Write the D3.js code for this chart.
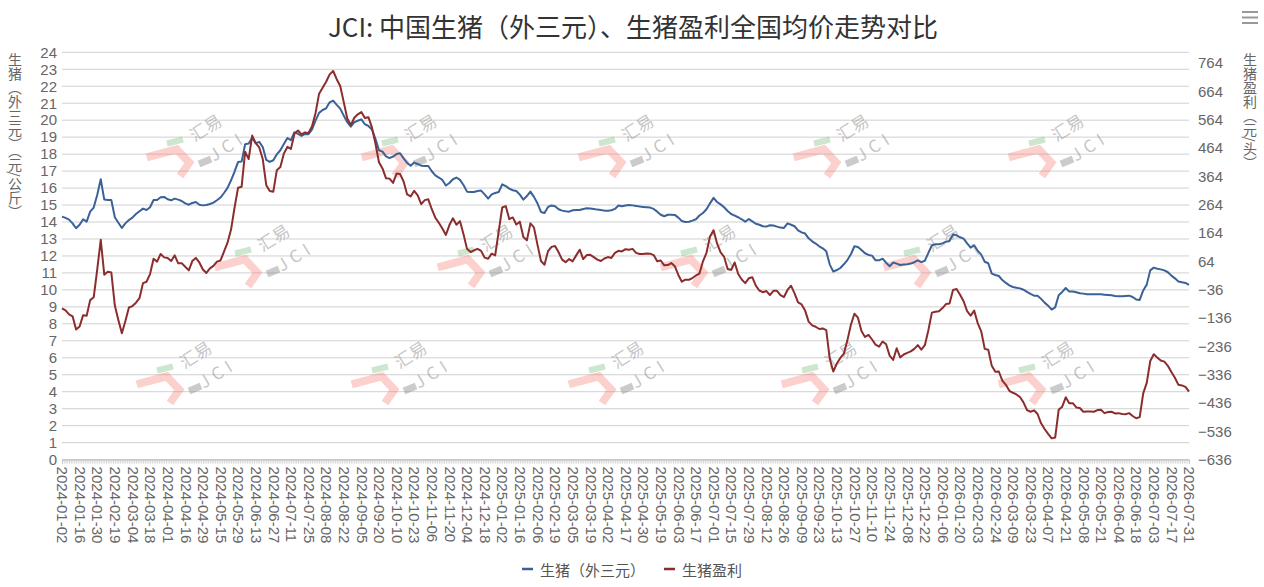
<!DOCTYPE html>
<meta charset="utf-8">
<title>JCI 生猪价格与盈利</title>
<style>
  body { margin: 0; background: #fff; }
  svg { display: block; font-family: "Noto Sans CJK SC", "Noto Sans", sans-serif; }
</style>
<div id="chart"></div>
<script src="https://cdn.jsdelivr.net/npm/d3@7/dist/d3.min.js"></script>
<script>

// one tick label every 10 trading days
const tickLabels = [
  "2024-01-02","2024-01-16","2024-01-30","2024-02-19","2024-03-04","2024-03-18","2024-04-01","2024-04-16",
  "2024-04-29","2024-05-15","2024-05-29","2024-06-13","2024-06-27","2024-07-11","2024-07-25","2024-08-08",
  "2024-08-22","2024-09-05","2024-09-20","2024-10-10","2024-10-23","2024-11-06","2024-11-20","2024-12-04",
  "2024-12-18","2025-01-02","2025-01-16","2025-02-06","2025-02-19","2025-03-05","2025-03-19","2025-04-02",
  "2025-04-17","2025-04-30","2025-05-19","2025-06-03","2025-06-17","2025-07-01","2025-07-15","2025-07-29",
  "2025-08-12","2025-08-26","2025-09-09","2025-09-23","2025-10-13","2025-10-27","2025-11-10","2025-11-24",
  "2025-12-08","2025-12-22","2026-01-06","2026-01-20","2026-02-03","2026-02-24","2026-03-09","2026-03-23",
  "2026-04-07","2026-04-21","2026-05-08","2026-05-21","2026-06-04","2026-06-18","2026-07-03","2026-07-17",
  "2026-07-31"
];
const labelEvery = 10;
const step = 2; // values below are read every 2nd trading day

// 生猪（外三元）, 元/公斤
const pigPrice = [
  14.32,14.24,14.14,13.92,13.63,13.84,14.16,14.02,14.61,14.85,15.59,16.52,15.32,15.30,15.30,14.28,
  13.96,13.65,13.92,14.12,14.26,14.47,14.63,14.79,14.71,14.87,15.30,15.30,15.46,15.48,15.34,15.28,
  15.38,15.32,15.24,15.10,15.02,15.12,15.18,15.02,14.98,15.00,15.06,15.14,15.28,15.44,15.71,16.01,
  16.46,16.97,17.54,17.56,18.58,18.62,18.97,18.64,18.72,18.42,17.66,17.54,17.64,17.99,18.23,18.60,
  18.95,18.82,19.29,19.19,19.07,19.19,19.17,19.46,19.99,20.43,20.60,20.70,21.05,21.15,20.90,
  20.68,20.27,19.88,19.62,19.88,19.97,20.05,19.76,19.66,19.45,18.90,18.23,18.15,17.87,17.77,17.85,
  18.01,18.05,17.75,17.48,17.32,17.50,17.42,17.32,17.30,17.30,16.99,16.75,16.62,16.48,16.15,16.30,
  16.52,16.62,16.48,16.18,15.79,15.77,15.77,15.83,15.85,15.63,15.38,15.63,15.71,15.77,16.22,16.12,
  15.97,15.87,15.83,15.61,15.32,15.53,15.79,15.48,15.10,14.59,14.53,14.89,14.97,14.93,14.75,14.67,
  14.63,14.61,14.69,14.71,14.71,14.77,14.81,14.79,14.77,14.73,14.71,14.67,14.67,14.69,14.77,14.97,
  14.93,14.97,15.00,14.98,14.95,14.91,14.89,14.87,14.85,14.77,14.61,14.43,14.34,14.43,14.43,14.42,
  14.26,14.06,14.00,14.02,14.08,14.16,14.38,14.53,14.75,15.10,15.42,15.18,15.04,14.87,14.65,14.47,
  14.38,14.28,14.16,14.02,14.18,14.04,13.90,13.84,13.75,13.73,13.81,13.79,13.73,13.67,13.65,13.92,
  13.84,13.75,13.51,13.39,13.32,13.04,12.86,12.73,12.57,12.45,12.27,11.49,11.08,11.17,11.29,11.51,
  11.76,12.10,12.57,12.53,12.35,12.16,12.06,12.02,11.74,11.74,11.84,11.60,11.39,11.61,11.55,
  11.47,11.49,11.51,11.55,11.63,11.74,11.64,11.72,12.18,12.63,12.69,12.69,12.74,12.84,12.88,13.26,
  13.22,13.10,13.02,12.74,12.49,12.63,12.31,12.08,11.66,11.57,10.96,10.88,10.82,10.58,10.41,10.27,
  10.17,10.13,10.09,10.01,9.88,9.76,9.66,9.66,9.47,9.25,9.07,8.84,8.97,9.69,9.88,10.11,
  9.90,9.90,9.86,9.80,9.78,9.74,9.74,9.74,9.74,9.74,9.72,9.70,9.68,9.64,9.62,9.62,
  9.64,9.66,9.58,9.44,9.41,9.97,10.31,11.15,11.31,11.25,11.21,11.15,11.04,10.84,10.68,10.50,
  10.45,10.41,10.29
];

// 生猪盈利, 元/头
const pigProfit = [
  -102,-109,-123,-130,-177,-166,-126,-128,-73,-63,35,140,17,27,25,-92,
  -143,-190,-147,-99,-94,-82,-66,-13,-8,19,73,63,90,78,76,65,
  85,57,57,45,32,65,76,60,35,23,39,48,63,67,98,130,
  176,254,324,327,451,425,508,481,466,425,333,312,310,386,397,445,
  468,461,514,526,512,519,517,541,588,656,677,698,724,736,707,
  683,626,568,545,571,583,591,570,573,537,480,414,392,357,356,341,
  374,372,346,300,293,313,297,266,280,283,248,218,200,180,157,192,
  216,193,206,160,108,97,103,108,101,77,73,91,85,170,254,259,
  213,219,194,204,150,138,198,184,123,65,52,100,115,118,96,70,
  61,72,64,85,105,72,86,87,79,70,65,74,79,76,94,101,
  99,107,105,108,94,90,90,92,91,86,64,67,50,51,58,47,
  16,-8,-1,-1,5,14,21,64,94,152,174,127,96,80,37,34,
  60,19,0,-13,4,8,-22,-39,-45,-41,-55,-40,-40,-55,-62,-37,
  -22,-49,-81,-88,-110,-149,-162,-167,-175,-173,-179,-280,-325,-297,-277,-262,
  -215,-160,-121,-135,-182,-203,-196,-212,-230,-237,-219,-229,-269,-284,-243,
  -275,-265,-259,-254,-245,-232,-248,-232,-179,-117,-114,-112,-101,-87,-85,-37,
  -34,-54,-77,-112,-128,-110,-154,-183,-245,-248,-305,-326,-325,-357,-372,-393,
  -400,-406,-415,-434,-461,-467,-462,-475,-508,-528,-545,-561,-558,-460,-449,-416,
  -437,-437,-452,-454,-467,-466,-466,-467,-461,-460,-472,-468,-467,-473,-472,-475,
  -476,-472,-482,-490,-486,-402,-365,-288,-264,-276,-286,-290,-305,-327,-347,-372,
  -374,-379,-396
];

const seriesNames = ["生猪（外三元）", "生猪盈利"];
const seriesColors = ["#3a6296", "#8c2d2d"];
const leftTicks = d3.range(0, 25, 1);
const rightTicks = d3.range(-636, 765, 100);

// watermark anchors (top-left of each logo)
const marks = [
  [145,115],[360,115],[577,115],[792,115],[1007,115],
  [213,225],[436,225],[659,225],[882,225],
  [135,342],[350,342],[567,342],[780,342],[997,342]
];

var width = 1264;
var height = 587;
var plotLeft = 62, plotRight = 1189, plotTop = 52.3, plotBottom = 459.6;

var lastIndex = (tickLabels.length - 1) * labelEvery;

var x = d3.scaleLinear().domain([0, lastIndex]).range([plotLeft, plotRight]);
var yL = d3.scaleLinear().domain([0, 24]).range([plotBottom, plotTop]);
var yR = d3.scaleLinear().domain([-636, 802]).range([plotBottom, plotTop]);

var svg = d3.select("#chart").append("svg")
  .attr("width", width)
  .attr("height", height);

// title
svg.append("text")
  .attr("x", 633).attr("y", 37)
  .attr("text-anchor", "middle")
  .attr("font-size", 26)
  .attr("fill", "#333")
  .text("JCI: 中国生猪（外三元）、生猪盈利全国均价走势对比");

// menu icon
svg.append("g").selectAll("line")
  .data([12, 17.5, 23])
  .enter().append("line")
  .attr("x1", 1242).attr("x2", 1258)
  .attr("y1", d => d).attr("y2", d => d)
  .attr("stroke", "#999").attr("stroke-width", 2);

// grid
svg.append("g").selectAll("line")
  .data(leftTicks)
  .enter().append("line")
  .attr("x1", plotLeft).attr("x2", plotRight)
  .attr("y1", d => yL(d)).attr("y2", d => yL(d))
  .attr("stroke", "#d0d0d0").attr("stroke-width", 1);

// watermarks
var wm = svg.append("g");
marks.forEach(function(m) {
  var g = wm.append("g").attr("transform", "translate(" + m[0] + "," + m[1] + ")");
  g.append("polyline")
    .attr("points", "1.7,42.3 31.7,34.3 44.3,47.7 35,61")
    .attr("fill", "none")
    .attr("stroke", "rgba(245,120,110,0.35)")
    .attr("stroke-width", 8);
  g.append("line")
    .attr("x1", 22).attr("y1", 28.5).attr("x2", 38).attr("y2", 24.5)
    .attr("stroke", "rgba(110,185,115,0.35)").attr("stroke-width", 6);
  g.append("line")
    .attr("x1", 54).attr("y1", 49).attr("x2", 66).attr("y2", 44)
    .attr("stroke", "rgba(140,140,140,0.45)").attr("stroke-width", 7);
  g.append("text")
    .attr("transform", "translate(60,12) rotate(-32)")
    .attr("text-anchor", "middle").attr("dominant-baseline", "central")
    .attr("font-size", 17)
    .attr("fill", "rgba(140,140,140,0.5)")
    .text("汇易");
  g.append("text")
    .attr("transform", "translate(82,30) rotate(-32)")
    .attr("text-anchor", "middle").attr("dominant-baseline", "central")
    .attr("font-size", 17)
    .attr("letter-spacing", 5)
    .attr("fill", "rgba(140,140,140,0.5)")
    .text("JCI");
});

// x axis
var xAxis = svg.append("g")
  .attr("transform", "translate(0," + plotBottom + ")")
  .call(d3.axisBottom(x)
    .tickValues(d3.range(0, lastIndex + 1))
    .tickSize(4)
    .tickFormat(i => i % labelEvery === 0 ? tickLabels[i / labelEvery] : ""));
xAxis.select(".domain").attr("stroke", "#bbb");
xAxis.selectAll(".tick line").attr("stroke", "#ccc").attr("stroke-width", 0.8);
xAxis.selectAll(".tick text")
  .attr("transform", "rotate(90)")
  .attr("text-anchor", "start")
  .attr("x", 7).attr("y", 0).attr("dy", "0.35em")
  .attr("font-size", 15)
  .attr("font-family", "inherit")
  .attr("fill", "#666");

// left axis
var yAxisL = svg.append("g")
  .attr("transform", "translate(" + plotLeft + ",0)")
  .call(d3.axisLeft(yL).tickValues(leftTicks).tickSize(0).tickPadding(5));
yAxisL.select(".domain").remove();
yAxisL.selectAll("text").attr("font-size", 15).attr("font-family", "inherit").attr("fill", "#666");

// right axis
var yAxisR = svg.append("g")
  .attr("transform", "translate(" + plotRight + ",0)")
  .call(d3.axisRight(yR).tickValues(rightTicks).tickSize(0).tickPadding(9));
yAxisR.select(".domain").remove();
yAxisR.selectAll("text").attr("font-size", 15).attr("font-family", "inherit").attr("fill", "#666");

// axis names, vertical
svg.append("text")
  .attr("x", 15).attr("y", plotTop)
  .style("writing-mode", "vertical-rl")
  .attr("font-size", 14)
  .attr("fill", "#666")
  .text("生猪（外三元）（元/公斤）");
svg.append("text")
  .attr("x", 1250).attr("y", plotTop)
  .style("writing-mode", "vertical-rl")
  .attr("font-size", 14)
  .attr("fill", "#666")
  .text("生猪盈利（元/头）");

// lines
var lineL = d3.line().x((d, k) => x(k * step)).y(d => yL(d));
var lineR = d3.line().x((d, k) => x(k * step)).y(d => yR(d));

svg.append("path")
  .datum(pigPrice)
  .attr("d", lineL)
  .attr("fill", "none")
  .attr("stroke", seriesColors[0])
  .attr("stroke-width", 2)
  .attr("stroke-linejoin", "round");

svg.append("path")
  .datum(pigProfit)
  .attr("d", lineR)
  .attr("fill", "none")
  .attr("stroke", seriesColors[1])
  .attr("stroke-width", 2)
  .attr("stroke-linejoin", "round");

// legend
var legend = svg.append("g").attr("transform", "translate(522,569)");
var lx = [0, 142];
seriesNames.forEach(function(name, k) {
  legend.append("line")
    .attr("x1", lx[k]).attr("x2", lx[k] + 11)
    .attr("y1", 0).attr("y2", 0)
    .attr("stroke", seriesColors[k]).attr("stroke-width", 2.5);
  legend.append("text")
    .attr("x", lx[k] + 18).attr("y", 0)
    .attr("dominant-baseline", "central")
    .attr("font-size", 15)
    .attr("fill", "#555")
    .text(name);
});

</script>
